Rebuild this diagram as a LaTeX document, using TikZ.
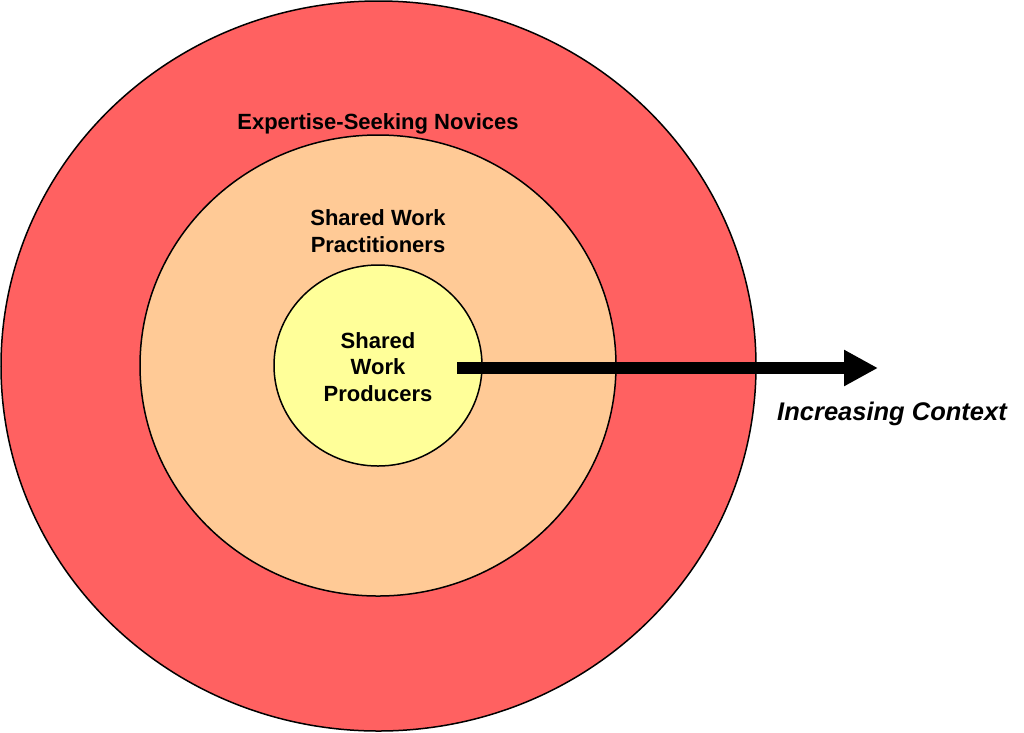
\documentclass[tikz,border=0pt]{standalone}
\usepackage{fontspec}
\setmainfont{Liberation Sans}
\usetikzlibrary{shapes.geometric,arrows.meta}
\definecolor{outerred}{HTML}{FF6161}
\definecolor{midpeach}{HTML}{FFCA96}
\definecolor{inneryellow}{HTML}{FFFF99}
\begin{document}
\begin{tikzpicture}[x=1pt,y=-1pt,
  ring/.style={ellipse,draw=black,line width=1.5pt,inner sep=0pt,outer sep=0pt},
  lbl/.style={font=\fontsize{22}{26.5}\selectfont\bfseries,align=center,inner sep=0pt},
  bigarrow/.style={line width=12pt,-{Triangle[length=34pt,width=34pt]}}]
\useasboundingbox (0,0) rectangle (1024,732);
\node[ring,fill=outerred,minimum width=755pt,minimum height=730pt] (outer) at (378.5,366) {};
\node[ring,fill=midpeach,minimum width=476pt,minimum height=461pt] (middle) at (378,365.5) {};
\node[ring,fill=inneryellow,minimum width=208pt,minimum height=201pt] (inner) at (378,365.5) {};
\node[lbl] (outerlbl) at (378,123.5) {Expertise-Seeking Novices};
\node[lbl] (midlbl) at (378,231) {Shared Work\\Practitioners};
\node[lbl] (innerlbl) at (378,367) {Shared\\Work\\Producers};
\coordinate (arrowstart) at (457,368);
\coordinate (arrowtip) at (878,368);
\draw[bigarrow] (arrowstart) -- (arrowtip);
\node[font=\fontsize{25.5}{30}\selectfont\bfseries\itshape,inner sep=0pt] (ctx) at (892,414) {Increasing Context};
\end{tikzpicture}
\end{document}
